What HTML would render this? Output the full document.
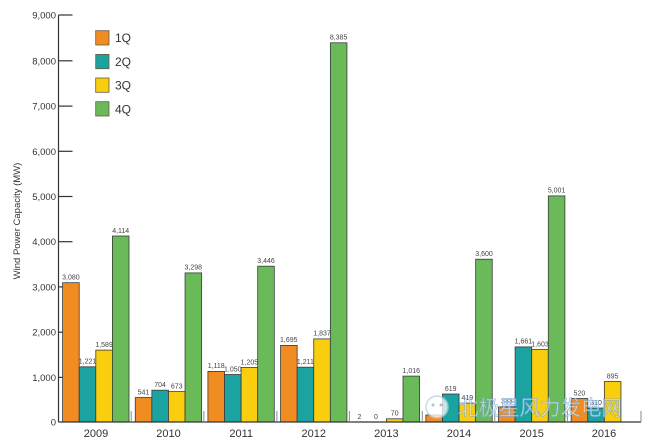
<!DOCTYPE html>
<html>
<head>
<meta charset="utf-8">
<style>
html,body{margin:0;padding:0;background:#fff;}
svg{display:block;}
text{font-family:"Liberation Sans","Noto Sans CJK SC",sans-serif;}
</style>
</head>
<body>
<svg width="652" height="442" viewBox="0 0 652 442" xmlns="http://www.w3.org/2000/svg">
<rect width="652" height="442" fill="#fff"/>

<!-- Y axis -->
<line x1="58.5" y1="15" x2="58.5" y2="422" stroke="#333" stroke-width="1.2"/>
<g stroke="#333" stroke-width="1.2">
<line x1="58.5" y1="15" x2="72.5" y2="15"/>
<line x1="58.5" y1="60.8" x2="72.5" y2="60.8"/>
<line x1="58.5" y1="106.1" x2="72.5" y2="106.1"/>
<line x1="58.5" y1="151.3" x2="72.5" y2="151.3"/>
<line x1="58.5" y1="196.5" x2="72.5" y2="196.5"/>
<line x1="58.5" y1="241.7" x2="72.5" y2="241.7"/>
<line x1="58.5" y1="286.9" x2="72.5" y2="286.9"/>
<line x1="58.5" y1="332.2" x2="72.5" y2="332.2"/>
<line x1="58.5" y1="377.4" x2="72.5" y2="377.4"/>
</g>
<g font-size="9.5" fill="#333" text-anchor="end">
<text x="56" y="18.5">9,000</text>
<text x="56" y="64.3">8,000</text>
<text x="56" y="109.6">7,000</text>
<text x="56" y="154.8">6,000</text>
<text x="56" y="200">5,000</text>
<text x="56" y="245.2">4,000</text>
<text x="56" y="290.4">3,000</text>
<text x="56" y="335.7">2,000</text>
<text x="56" y="380.9">1,000</text>
<text x="56" y="425.5">0</text>
</g>
<text x="0" y="0" transform="translate(20,221) rotate(-90)" font-size="9.5" fill="#333" text-anchor="middle">Wind Power Capacity (MW)</text>

<!-- Legend -->
<g stroke="#6b5a3a" stroke-width="0.8">
<rect x="95.7" y="30.7" width="13.3" height="14.3" fill="#F08C22"/>
<rect x="95.7" y="54.4" width="13.3" height="14.3" fill="#1AA3A0"/>
<rect x="95.7" y="78" width="13.3" height="14.3" fill="#F9CE0E"/>
<rect x="95.7" y="101.7" width="13.3" height="14.3" fill="#6BBA5A"/>
</g>
<g font-size="12" fill="#333">
<text x="115" y="42">1Q</text>
<text x="115" y="66">2Q</text>
<text x="115" y="89.5">3Q</text>
<text x="115" y="113.3">4Q</text>
</g>

<!-- Bars -->
<g stroke="#3a3a3a" stroke-width="0.8">
<!-- 2009 -->
<rect x="62.6" y="282.7" width="16.6" height="139.3" fill="#F08C22"/>
<rect x="79.2" y="366.8" width="16.6" height="55.2" fill="#1AA3A0"/>
<rect x="95.8" y="350.1" width="16.6" height="71.9" fill="#F9CE0E"/>
<rect x="112.4" y="236" width="16.6" height="186" fill="#6BBA5A"/>
<!-- 2010 -->
<rect x="135.25" y="397.5" width="16.6" height="24.5" fill="#F08C22"/>
<rect x="151.85" y="390.2" width="16.6" height="31.8" fill="#1AA3A0"/>
<rect x="168.45" y="391.6" width="16.6" height="30.4" fill="#F9CE0E"/>
<rect x="185.05" y="272.9" width="16.6" height="149.1" fill="#6BBA5A"/>
<!-- 2011 -->
<rect x="207.9" y="371.4" width="16.6" height="50.6" fill="#F08C22"/>
<rect x="224.5" y="374.5" width="16.6" height="47.5" fill="#1AA3A0"/>
<rect x="241.1" y="367.5" width="16.6" height="54.5" fill="#F9CE0E"/>
<rect x="257.7" y="266.2" width="16.6" height="155.8" fill="#6BBA5A"/>
<!-- 2012 -->
<rect x="280.55" y="345.4" width="16.6" height="76.6" fill="#F08C22"/>
<rect x="297.15" y="367.2" width="16.6" height="54.8" fill="#1AA3A0"/>
<rect x="313.75" y="338.9" width="16.6" height="83.1" fill="#F9CE0E"/>
<rect x="330.35" y="42.8" width="16.6" height="379.2" fill="#6BBA5A"/>
<!-- 2013 -->
<rect x="386.4" y="418.8" width="16.6" height="3.2" fill="#F9CE0E"/>
<rect x="403" y="376.1" width="16.6" height="45.9" fill="#6BBA5A"/>
<!-- 2014 -->
<rect x="425.85" y="415" width="16.6" height="7" fill="#F08C22"/>
<rect x="442.45" y="394" width="16.6" height="28" fill="#1AA3A0"/>
<rect x="459.05" y="403.1" width="16.6" height="18.9" fill="#F9CE0E"/>
<rect x="475.65" y="259.2" width="16.6" height="162.8" fill="#6BBA5A"/>
<!-- 2015 -->
<rect x="498.5" y="406.9" width="16.6" height="15.1" fill="#F08C22"/>
<rect x="515.1" y="346.9" width="16.6" height="75.1" fill="#1AA3A0"/>
<rect x="531.7" y="349.5" width="16.6" height="72.5" fill="#F9CE0E"/>
<rect x="548.3" y="195.9" width="16.6" height="226.1" fill="#6BBA5A"/>
<!-- 2016 -->
<rect x="571.15" y="398.5" width="16.6" height="23.5" fill="#F08C22"/>
<rect x="587.75" y="408" width="16.6" height="14" fill="#1AA3A0"/>
<rect x="604.35" y="381.5" width="16.6" height="40.5" fill="#F9CE0E"/>
</g>

<!-- Baseline and separators -->
<line x1="58.5" y1="422" x2="641" y2="422" stroke="#333" stroke-width="1.2"/>
<g stroke="#888" stroke-width="1">
<line x1="131.2" y1="411" x2="131.2" y2="422"/>
<line x1="203.9" y1="411" x2="203.9" y2="422"/>
<line x1="276.9" y1="411" x2="276.9" y2="422"/>
<line x1="349.4" y1="411" x2="349.4" y2="422"/>
<line x1="422.3" y1="411" x2="422.3" y2="422"/>
<line x1="494.8" y1="411" x2="494.8" y2="422"/>
<line x1="567.4" y1="411" x2="567.4" y2="422"/>
<line x1="641" y1="411" x2="641" y2="422"/>
</g>

<!-- Value labels -->
<g font-size="7" fill="#444" text-anchor="middle">
<text x="70.9" y="279.5">3,080</text>
<text x="87.5" y="363.6">1,221</text>
<text x="104.1" y="347">1,589</text>
<text x="120.7" y="233">4,114</text>
<text x="143.5" y="394.3">541</text>
<text x="160.1" y="387">704</text>
<text x="176.7" y="388.4">673</text>
<text x="193.3" y="269.7">3,298</text>
<text x="216.2" y="368.2">1,118</text>
<text x="232.8" y="371.3">1,050</text>
<text x="249.4" y="364.3">1,205</text>
<text x="266" y="263">3,446</text>
<text x="288.8" y="342.2">1,695</text>
<text x="305.4" y="364">1,211</text>
<text x="322" y="335.7">1,837</text>
<text x="338.6" y="39.6">8,385</text>
<text x="359.5" y="419">2</text>
<text x="376" y="419">0</text>
<text x="394.7" y="415.6">70</text>
<text x="411.3" y="372.9">1,016</text>
<text x="450.7" y="390.8">619</text>
<text x="467.3" y="399.9">419</text>
<text x="484" y="256">3,600</text>
<text x="506.8" y="403.7">333</text>
<text x="523.4" y="343.7">1,661</text>
<text x="540" y="346.3">1,603</text>
<text x="556.6" y="192.7">5,001</text>
<text x="579.4" y="395.3">520</text>
<text x="596" y="404.8">310</text>
<text x="612.6" y="378.3">895</text>
</g>

<!-- Year labels -->
<g font-size="11" fill="#333" text-anchor="middle">
<text x="96" y="437">2009</text>
<text x="168.5" y="437">2010</text>
<text x="241.2" y="437">2011</text>
<text x="313.8" y="437">2012</text>
<text x="386.4" y="437">2013</text>
<text x="459" y="437">2014</text>
<text x="531.7" y="437">2015</text>
<text x="604" y="437">2016</text>
</g>

<!-- Watermark -->
<g opacity="0.75">
<circle cx="437" cy="407" r="11" fill="#fff" stroke="#b8cde0" stroke-width="1.5"/>
<circle cx="433" cy="405" r="1.5" fill="#9ab"/>
<circle cx="441" cy="405" r="1.5" fill="#9ab"/>
</g>
<text x="458" y="415" font-size="20.5" fill="rgba(255,255,255,0.55)" stroke="rgba(110,160,215,0.7)" stroke-width="0.7" font-family="'Noto Sans CJK SC',sans-serif">北极星风力发电网</text>
</svg>
</body>
</html>
